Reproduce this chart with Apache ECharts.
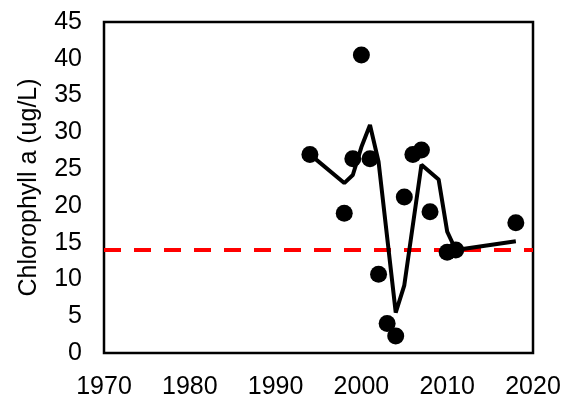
<!DOCTYPE html>
<html><head><meta charset="utf-8">
<script src="https://cdn.jsdelivr.net/npm/echarts@6/dist/echarts.min.js"></script>
<style>html,body{margin:0;padding:0;background:#fff}#c{width:568px;height:398px}</style>
</head><body><div id="c"></div>
<script>
// Observed annual values
var obsYears = [1994, 1998, 1999, 2000, 2001, 2002, 2003, 2004, 2005, 2006, 2007, 2008, 2010, 2011, 2018];
var obsValues = [27.0, 19.0, 26.4, 40.5, 26.4, 10.7, 4.0, 2.3, 21.2, 27.0, 27.6, 19.2, 13.7, 14.0, 17.7];
// Trend line
var trendYears = [1994, 1998, 1999, 2000, 2001, 2002, 2004, 2005, 2007, 2009, 2010, 2011, 2018];
var trendValues = [27.0, 23.1, 24.2, 28.0, 31.0, 26.0, 5.5, 9.2, 25.6, 23.6, 16.5, 14.0, 15.2];
// Threshold
var thresholdYears = [1970, 2020];
var thresholdValue = 14;
var xTicks = [1970, 1980, 1990, 2000, 2010, 2020];
var yTicks = [0, 5, 10, 15, 20, 25, 30, 35, 40, 45];

function pairs(xs, ys) { return xs.map(function (x, i) { return [x, ys[i]]; }); }

var chart = echarts.init(document.getElementById('c'));
var font = 'Liberation Sans, Arial, sans-serif';
chart.setOption({
  animation: false,
  grid: { left: 104, right: 35, top: 22, bottom: 45, containLabel: false, outerBoundsMode: 'none',
          show: true, borderColor: '#000', borderWidth: 2.5, backgroundColor: 'transparent' },
  xAxis: {
    type: 'value', min: xTicks[0], max: xTicks[xTicks.length - 1], interval: 10,
    axisLine: { show: false }, axisTick: { show: false }, splitLine: { show: false },
    axisLabel: { color: '#000', fontSize: 25, fontFamily: font, margin: 22, formatter: function (v) { return String(v); } }
  },
  yAxis: {
    type: 'value', min: yTicks[0], max: yTicks[yTicks.length - 1], interval: 5,
    name: 'Chlorophyll a (ug/L)', nameLocation: 'middle', nameGap: 62,
    nameTextStyle: { color: '#000', fontSize: 25, fontFamily: font },
    axisLine: { show: false }, axisTick: { show: false }, splitLine: { show: false },
    axisLabel: { color: '#000', fontSize: 25, fontFamily: font, margin: 22 }
  },
  series: [
    {
      type: 'line', data: thresholdYears.map(function (x) { return [x, thresholdValue]; }),
      symbol: 'none', lineStyle: { color: '#ff0000', width: 4, type: [17, 13] }, z: 1
    },
    {
      type: 'line', data: pairs(trendYears, trendValues), symbol: 'none',
      lineStyle: { color: '#000', width: 4 }, z: 2
    },
    {
      type: 'scatter', data: pairs(obsYears, obsValues), symbol: 'circle', symbolSize: 17,
      itemStyle: { color: '#000', opacity: 1 }, z: 3
    }
  ]
});
</script></body></html>
